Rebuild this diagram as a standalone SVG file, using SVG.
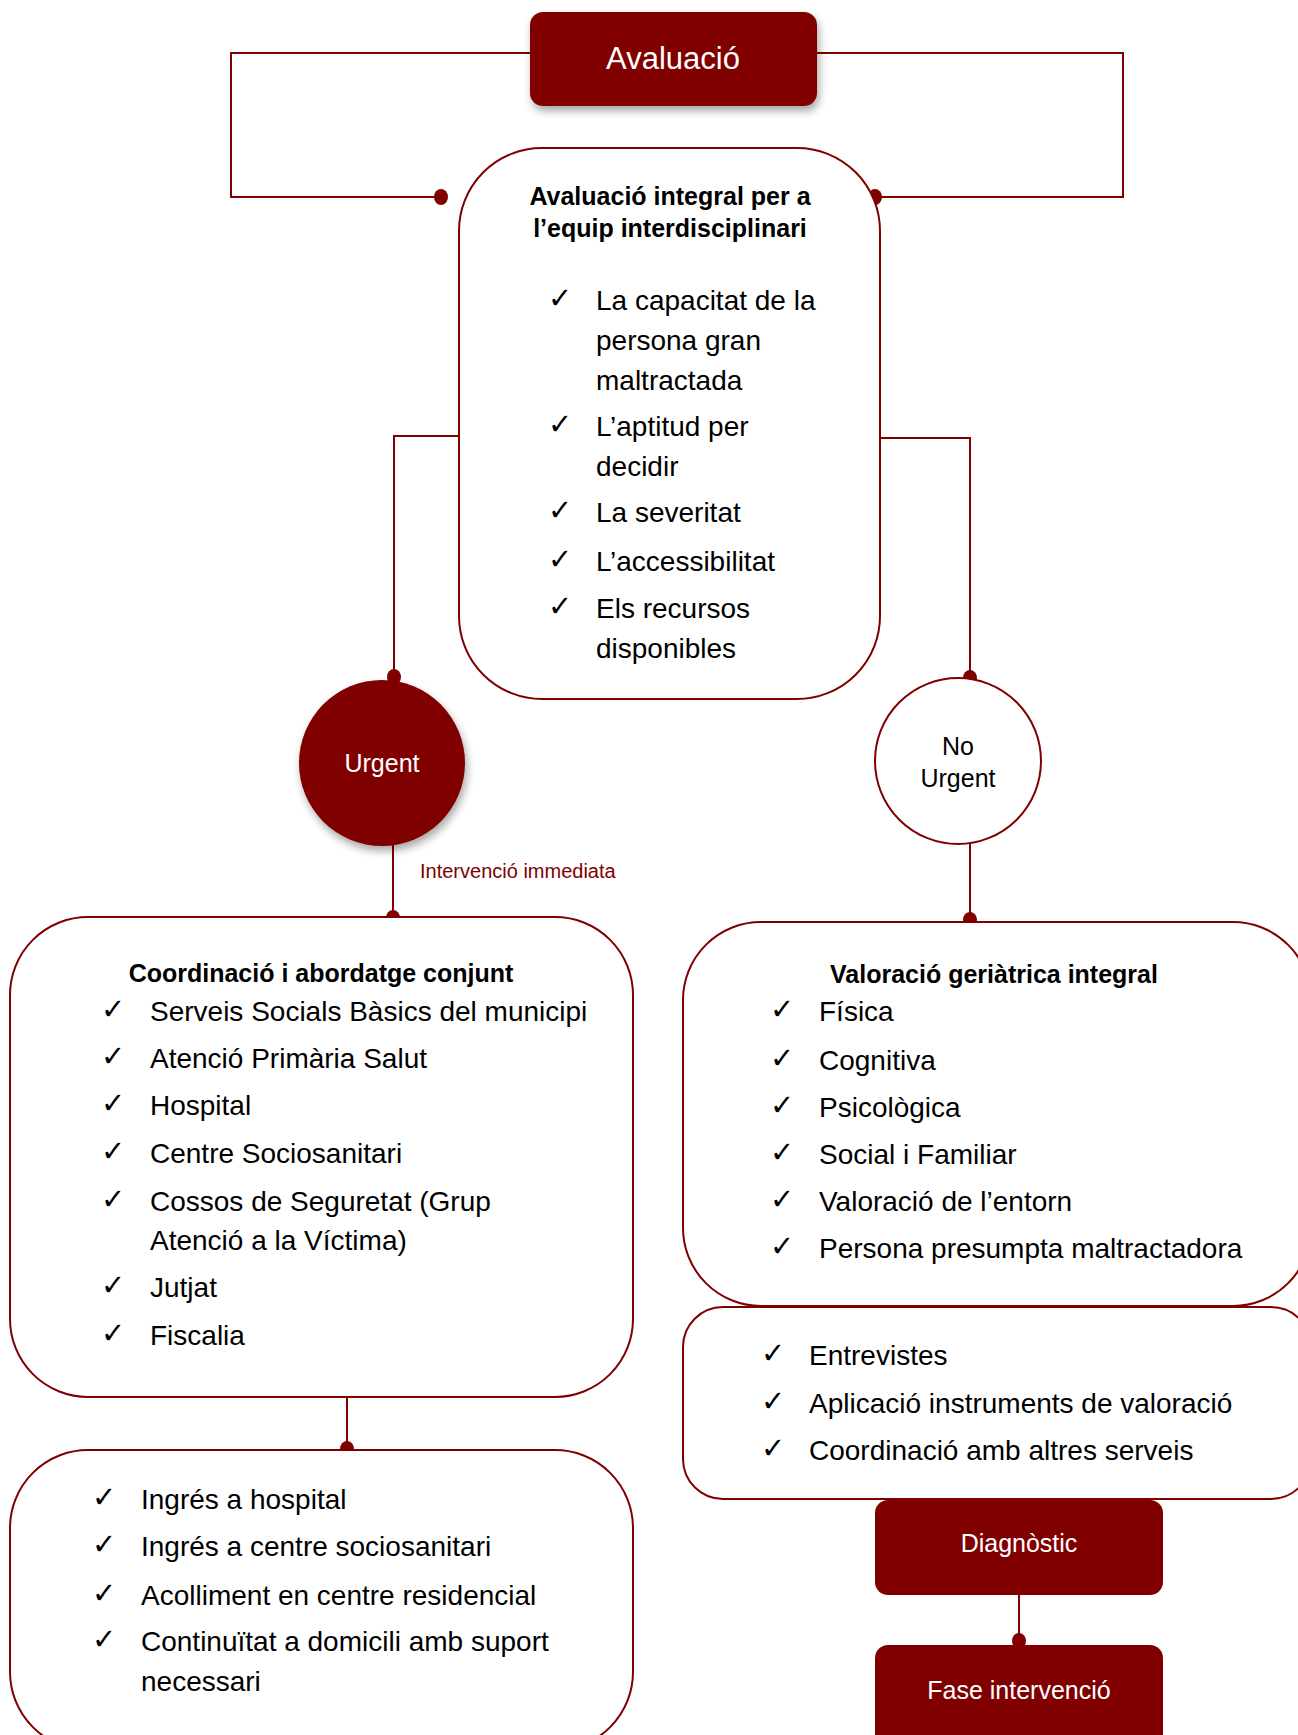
<svg xmlns="http://www.w3.org/2000/svg" width="1298" height="1735" viewBox="0 0 1298 1735">
<defs>
<filter id="sh" x="-20%" y="-20%" width="150%" height="160%">
<feDropShadow dx="2" dy="5" stdDeviation="4" flood-color="#000" flood-opacity="0.35"/>
</filter>
</defs>
<style>
.box{fill:#fff;stroke:#800000;stroke-width:2}
.dark{fill:#800000}
.ln{fill:none;stroke:#800000;stroke-width:2}
.dot{fill:#800000}
.t{font-family:"Liberation Sans",Arial,sans-serif;font-size:28px;fill:#000}
.b{font-family:"Liberation Sans",Arial,sans-serif;font-size:25px;font-weight:bold;fill:#000;text-anchor:middle}
.w{font-family:"Liberation Sans",Arial,sans-serif;font-size:25px;fill:#fff;text-anchor:middle}
.c{font-family:"DejaVu Sans",sans-serif;font-size:29px;fill:#000}
</style>
<rect width="1298" height="1735" fill="#fff"/>

<g id="connectors">
<polyline class="ln" points="530,53 231,53 231,197 441,197"/>
<polyline class="ln" points="817,53 1123,53 1123,197 875,197"/>
<ellipse class="dot" cx="441" cy="197" rx="7" ry="8"/>
<ellipse class="dot" cx="875" cy="197" rx="7" ry="8"/>
<polyline class="ln" points="459,436 394,436 394,677"/>
<ellipse class="dot" cx="394" cy="677" rx="7" ry="8"/>
<polyline class="ln" points="880,438 970,438 970,678"/>
<ellipse class="dot" cx="970" cy="678" rx="7" ry="8"/>
<line class="ln" x1="393" y1="845" x2="393" y2="918"/>
<ellipse class="dot" cx="393" cy="918" rx="7" ry="8"/>
<line class="ln" x1="970" y1="844" x2="970" y2="920"/>
<ellipse class="dot" cx="970" cy="920" rx="7" ry="8"/>
<line class="ln" x1="347" y1="1397" x2="347" y2="1449"/>
<ellipse class="dot" cx="347" cy="1449" rx="7" ry="8"/>
<line class="ln" x1="1019" y1="1595" x2="1019" y2="1641"/>
<ellipse class="dot" cx="1019" cy="1641" rx="7" ry="8"/>
<text x="420" y="878" style="font-family:'Liberation Sans',Arial,sans-serif;font-size:20px;fill:#800000">Intervenció immediata</text>
</g>

<g id="avaluacio">
<rect class="dark" x="530" y="12" width="287" height="94" rx="13" filter="url(#sh)"/>
<text class="w" x="673" y="69" style="font-size:31px">Avaluació</text>
</g>

<g id="avaluacio-integral">
<rect class="box" x="459" y="148" width="421" height="551" rx="83"/>
<text class="b" x="670" y="205">Avaluació integral per a</text>
<text class="b" x="670" y="237">l’equip interdisciplinari</text>
<text class="c" x="548" y="308">✓</text><text class="t" x="596" y="310">La capacitat de la</text>
<text class="t" x="596" y="350">persona gran</text>
<text class="t" x="596" y="390">maltractada</text>
<text class="c" x="548" y="434">✓</text><text class="t" x="596" y="436">L’aptitud per</text>
<text class="t" x="596" y="476">decidir</text>
<text class="c" x="548" y="520">✓</text><text class="t" x="596" y="522">La severitat</text>
<text class="c" x="548" y="569">✓</text><text class="t" x="596" y="571">L’accessibilitat</text>
<text class="c" x="548" y="616">✓</text><text class="t" x="596" y="618">Els recursos</text>
<text class="t" x="596" y="658">disponibles</text>
</g>

<g id="urgent">
<circle class="dark" cx="382" cy="763" r="83" filter="url(#sh)"/>
<text class="w" x="382" y="772">Urgent</text>
</g>

<g id="no-urgent">
<circle class="box" cx="958" cy="761" r="83"/>
<text class="w" x="958" y="755" style="fill:#000">No</text>
<text class="w" x="958" y="787" style="fill:#000">Urgent</text>
</g>

<g id="coordinacio">
<rect class="box" x="10" y="917" width="623" height="480" rx="78"/>
<text class="b" x="321" y="982">Coordinació i abordatge conjunt</text>
<text class="c" x="101" y="1019">✓</text><text class="t" x="150" y="1021">Serveis Socials Bàsics del municipi</text>
<text class="c" x="101" y="1066">✓</text><text class="t" x="150" y="1068">Atenció Primària Salut</text>
<text class="c" x="101" y="1113">✓</text><text class="t" x="150" y="1115">Hospital</text>
<text class="c" x="101" y="1161">✓</text><text class="t" x="150" y="1163">Centre Sociosanitari</text>
<text class="c" x="101" y="1209">✓</text><text class="t" x="150" y="1211">Cossos de Seguretat (Grup</text>
<text class="t" x="150" y="1250">Atenció a la Víctima)</text>
<text class="c" x="101" y="1295">✓</text><text class="t" x="150" y="1297">Jutjat</text>
<text class="c" x="101" y="1343">✓</text><text class="t" x="150" y="1345">Fiscalia</text>
</g>

<g id="recursos">
<rect class="box" x="10" y="1450" width="623" height="300" rx="78"/>
<text class="c" x="92" y="1507">✓</text><text class="t" x="141" y="1509">Ingrés a hospital</text>
<text class="c" x="92" y="1554">✓</text><text class="t" x="141" y="1556">Ingrés a centre sociosanitari</text>
<text class="c" x="92" y="1603">✓</text><text class="t" x="141" y="1605">Acolliment en centre residencial</text>
<text class="c" x="92" y="1649">✓</text><text class="t" x="141" y="1651">Continuïtat a domicili amb suport</text>
<text class="t" x="141" y="1691">necessari</text>
</g>

<g id="valoracio">
<rect class="box" x="683" y="922" width="628" height="384" rx="78"/>
<text class="b" x="994" y="983">Valoració geriàtrica integral</text>
<text class="c" x="770" y="1019">✓</text><text class="t" x="819" y="1021">Física</text>
<text class="c" x="770" y="1068">✓</text><text class="t" x="819" y="1070">Cognitiva</text>
<text class="c" x="770" y="1115">✓</text><text class="t" x="819" y="1117">Psicològica</text>
<text class="c" x="770" y="1162">✓</text><text class="t" x="819" y="1164">Social i Familiar</text>
<text class="c" x="770" y="1209">✓</text><text class="t" x="819" y="1211">Valoració de l’entorn</text>
<text class="c" x="770" y="1256">✓</text><text class="t" x="819" y="1258">Persona presumpta maltractadora</text>
</g>

<g id="metodes">
<rect class="box" x="683" y="1307" width="628" height="192" rx="40"/>
<text class="c" x="761" y="1363">✓</text><text class="t" x="809" y="1365">Entrevistes</text>
<text class="c" x="761" y="1411">✓</text><text class="t" x="809" y="1413">Aplicació instruments de valoració</text>
<text class="c" x="761" y="1458">✓</text><text class="t" x="809" y="1460">Coordinació amb altres serveis</text>
</g>

<g id="diagnostic">
<rect class="dark" x="875" y="1500" width="288" height="95" rx="13"/>
<text class="w" x="1019" y="1552">Diagnòstic</text>
</g>

<g id="fase-intervencio">
<rect class="dark" x="875" y="1645" width="288" height="110" rx="13"/>
<text class="w" x="1019" y="1699">Fase intervenció</text>
</g>
</svg>
